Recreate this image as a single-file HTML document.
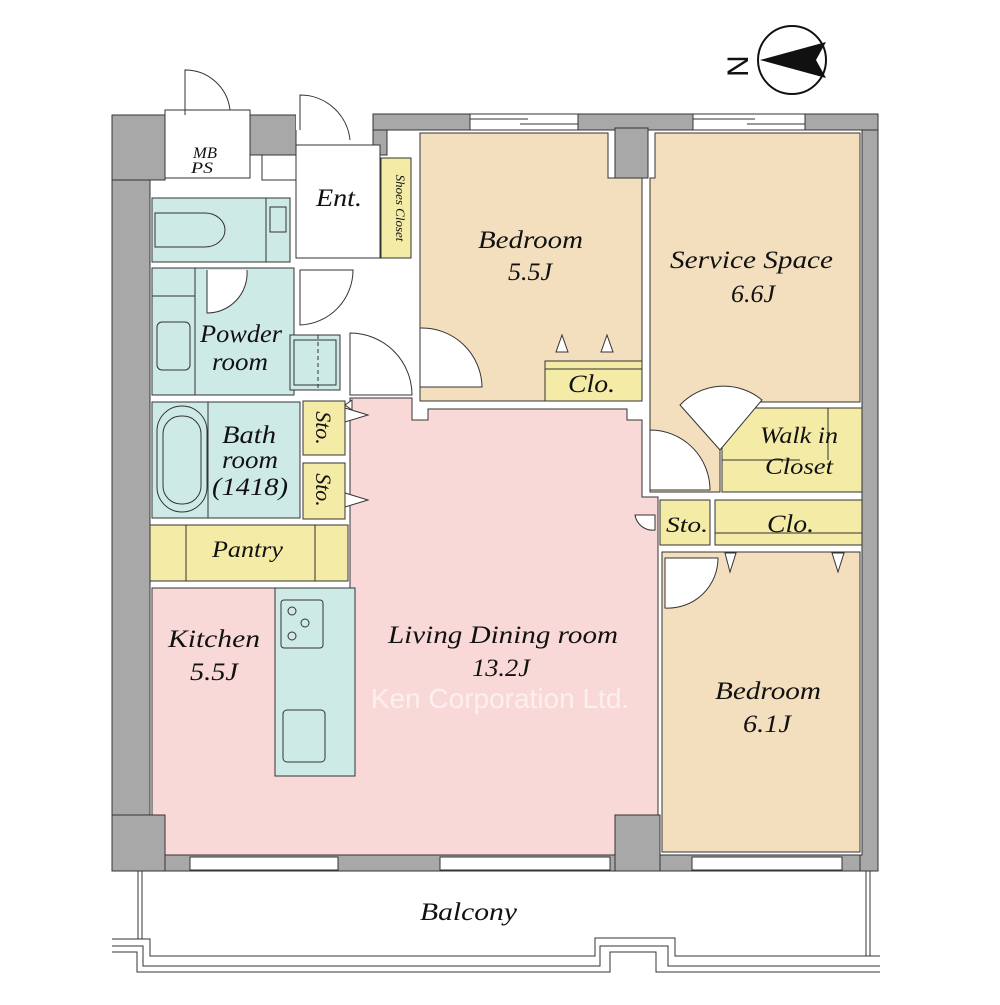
<!DOCTYPE html>
<html><head><meta charset="utf-8"><style>
html,body{margin:0;padding:0;background:#fff;}
svg text{font-family:"Liberation Serif",serif;font-style:italic;fill:#111;}
</style></head><body>
<svg width="1000" height="1000" viewBox="0 0 1000 1000" xmlns="http://www.w3.org/2000/svg">
<g stroke="#333" stroke-width="1">
<rect x="112" y="115" width="766" height="756" fill="#a8a8a8"/>
<rect x="150" y="130" width="712" height="725" fill="#fff"/>
<rect x="112" y="115" width="53" height="65" fill="#a8a8a8"/>
<rect x="165" y="110" width="85" height="68" fill="#fff"/>
<rect x="250" y="115" width="46" height="40" fill="#a8a8a8"/>
<rect x="262" y="155" width="34" height="25" fill="#fff"/>
<rect x="296" y="110" width="78" height="35" fill="#fff" stroke="none"/>
<line x1="296" y1="130" x2="296" y2="145"/><line x1="373" y1="115" x2="373" y2="145"/>
<rect x="373" y="114" width="505" height="16" fill="#a8a8a8"/>
<rect x="373" y="130" width="14" height="25" fill="#a8a8a8"/>
<rect x="470" y="114" width="108" height="16" fill="#fff"/>
<line x1="470" y1="119" x2="528" y2="119"/><line x1="520" y1="124" x2="578" y2="124"/>
<rect x="693" y="114" width="112" height="16" fill="#fff"/>
<line x1="693" y1="119" x2="755" y2="119"/><line x1="747" y1="124" x2="805" y2="124"/>
<rect x="615" y="128" width="33" height="50" fill="#a8a8a8"/>
<rect x="296" y="145" width="84" height="113" fill="#fff"/>
<rect x="381" y="158" width="30" height="100" fill="#f3eba6"/>
<polygon points="420,133 608,133 608,178 642,178 642,401 420,401" fill="#f3dfbd"/>
<rect x="545" y="361" width="97" height="40" fill="#f3eba6"/>
<line x1="545" y1="369" x2="642" y2="369"/>
<polygon points="556,352 562,335 568,352" fill="#fff"/>
<polygon points="601,352 607,335 613,352" fill="#fff"/>
<polygon points="650,178 655,178 655,133 860,133 860,402 720,402 720,492 650,492" fill="#f3dfbd"/>
<rect x="722" y="408" width="140" height="84" fill="#f3eba6"/>
<line x1="722" y1="460" x2="800" y2="460"/><line x1="828" y1="408" x2="828" y2="460"/>
<rect x="660" y="500" width="50" height="45" fill="#f3eba6"/>
<rect x="715" y="500" width="147" height="45" fill="#f3eba6"/>
<line x1="715" y1="533" x2="862" y2="533"/>
<rect x="662" y="552" width="198" height="300" fill="#f3dfbd"/>
<polygon points="725,553 730,572 736,553" fill="#fff"/>
<polygon points="832,553 838,572 844,553" fill="#fff"/>
<polygon points="350,398 412,398 412,420 428,420 428,409 627,409 627,420 642,420 642,497 658,497 658,852 615,852 615,815 165,815 165,852 152,852 152,588 350,588 350,520" fill="#f9d9d7"/>
<rect x="164" y="814" width="452" height="41" fill="#f9d9d7" stroke="none"/>
<polygon points="352,400 345,405 352,410" fill="#fff"/>
<rect x="275" y="588" width="80" height="188" fill="#cdeae7"/>
<rect x="281" y="600" width="42" height="48" rx="3" fill="none"/>
<circle cx="292" cy="611" r="4" fill="none"/><circle cx="305" cy="623" r="4" fill="none"/><circle cx="292" cy="636" r="4" fill="none"/>
<rect x="283" y="710" width="42" height="52" rx="4" fill="none"/>
<rect x="150" y="525" width="198" height="56" fill="#f3eba6"/>
<line x1="186" y1="525" x2="186" y2="581"/><line x1="315" y1="525" x2="315" y2="581"/>
<rect x="152" y="198" width="138" height="64" fill="#cdeae7"/>
<line x1="266" y1="198" x2="266" y2="262"/>
<path d="M155 213 H205 A20 17 0 0 1 205 247 H155 Z" fill="none"/>
<rect x="270" y="207" width="16" height="25" fill="none"/>
<rect x="152" y="268" width="142" height="127" fill="#cdeae7"/>
<line x1="195" y1="268" x2="195" y2="395"/><line x1="152" y1="296" x2="195" y2="296"/>
<path d="M207 270 V313 A40 40 0 0 0 247 270" fill="#fff"/>
<rect x="157" y="322" width="33" height="48" rx="5" fill="none"/>
<rect x="290" y="335" width="50" height="55" fill="#cdeae7"/>
<rect x="294" y="340" width="42" height="45" fill="none"/>
<line x1="318" y1="335" x2="318" y2="390" stroke-dasharray="4,3"/>
<rect x="152" y="402" width="148" height="116" fill="#cdeae7"/>
<line x1="208" y1="402" x2="208" y2="518"/>
<rect x="157" y="406" width="50" height="106" rx="25" fill="none"/>
<rect x="163" y="416" width="38" height="88" rx="18" fill="none"/>
<rect x="303" y="401" width="42" height="54" fill="#f3eba6"/>
<rect x="303" y="463" width="42" height="56" fill="#f3eba6"/>
<polygon points="345,408 368,415 345,422" fill="#fff"/>
<polygon points="345,493 368,500 345,507" fill="#fff"/>
<path d="M300 270 V325 A55 55 0 0 0 353 270 Z" fill="#fff"/>
<path d="M350 333 V395 H412 A62 62 0 0 0 350 333 Z" fill="#fff"/>
<path d="M420 328 V387 H482 A60 60 0 0 0 420 328 Z" fill="#fff"/>
<path d="M650 430 V490 H710 A60 60 0 0 0 650 430 Z" fill="#fff"/>
<path d="M665 558 V608 A50 50 0 0 0 718 558 Z" fill="#fff"/>
<path d="M720 450 L680 405 A60 60 0 0 1 762 400 Z" fill="#fff"/>
<path d="M635 515 A18 18 0 0 0 655 530 V515 Z" fill="#fff"/>
<path d="M300 130 V95 A50 50 0 0 1 350 140" fill="none"/>
<path d="M185 115 V70 A45 45 0 0 1 230 110" fill="none"/>
<rect x="112" y="815" width="53" height="56" fill="#a8a8a8"/>
<rect x="615" y="815" width="45" height="56" fill="#a8a8a8"/>
<rect x="165" y="855" width="450" height="16" fill="#a8a8a8"/>
<rect x="660" y="855" width="200" height="16" fill="#a8a8a8"/>
<rect x="190" y="857" width="148" height="13" fill="#fff"/>
<rect x="440" y="857" width="170" height="13" fill="#fff"/>
<rect x="692" y="857" width="150" height="13" fill="#fff"/>
<rect x="138" y="871" width="4" height="68" fill="#fff"/>
<rect x="866" y="871" width="4" height="85" fill="#fff"/>
<polyline points="112,939 150,939 150,956 595,956 595,938 675,938 675,956 880,956" fill="none"/>
<polyline points="112,946 143,946 143,966 600,966 600,946 668,946 668,966 880,966" fill="none"/>
<polyline points="112,952 137,952 137,972 610,972 610,952 656,952 656,972 880,972" fill="none"/>
</g>
<circle cx="792" cy="60" r="34" fill="#fff" stroke="#111" stroke-width="2"/>
<polygon points="760,60 826,42 816,60 826,78" fill="#111"/>
<text x="722" y="73" font-size="30" style="font-style:normal;font-family:'Liberation Sans',sans-serif" transform="rotate(-90 737 62)">N</text>
<g font-size="25">
<text x="193" y="158" font-size="16" textLength="24" lengthAdjust="spacingAndGlyphs">MB</text>
<text x="191" y="173" font-size="16" textLength="22" lengthAdjust="spacingAndGlyphs">PS</text>
<text x="316" y="206" textLength="46" lengthAdjust="spacingAndGlyphs">Ent.</text>
<text x="396" y="208" font-size="13" text-anchor="middle" transform="rotate(90 396 208)">Shoes Closet</text>
<text x="478" y="248" textLength="105" lengthAdjust="spacingAndGlyphs">Bedroom</text>
<text x="508" y="280" textLength="44" lengthAdjust="spacingAndGlyphs">5.5J</text>
<text x="670" y="268" textLength="163" lengthAdjust="spacingAndGlyphs">Service Space</text>
<text x="731" y="302" textLength="44" lengthAdjust="spacingAndGlyphs">6.6J</text>
<text x="568" y="392" textLength="47" lengthAdjust="spacingAndGlyphs">Clo.</text>
<text x="760" y="443" font-size="23" textLength="78" lengthAdjust="spacingAndGlyphs">Walk in</text>
<text x="765" y="474" font-size="23" textLength="68" lengthAdjust="spacingAndGlyphs">Closet</text>
<text x="666" y="532" font-size="22" textLength="42" lengthAdjust="spacingAndGlyphs">Sto.</text>
<text x="767" y="532" textLength="47" lengthAdjust="spacingAndGlyphs">Clo.</text>
<text x="200" y="342" textLength="82" lengthAdjust="spacingAndGlyphs">Powder</text>
<text x="212" y="370" textLength="56" lengthAdjust="spacingAndGlyphs">room</text>
<text x="222" y="443" textLength="54" lengthAdjust="spacingAndGlyphs">Bath</text>
<text x="222" y="468" textLength="56" lengthAdjust="spacingAndGlyphs">room</text>
<text x="212" y="495" textLength="76" lengthAdjust="spacingAndGlyphs">(1418)</text>
<text x="310" y="428" font-size="22" text-anchor="middle" transform="rotate(90 324 428)" dx="14" dy="8">Sto.</text>
<text x="310" y="490" font-size="22" text-anchor="middle" transform="rotate(90 324 490)" dx="14" dy="8">Sto.</text>
<text x="212" y="557" font-size="23" textLength="71" lengthAdjust="spacingAndGlyphs">Pantry</text>
<text x="168" y="647" textLength="92" lengthAdjust="spacingAndGlyphs">Kitchen</text>
<text x="190" y="680" textLength="48" lengthAdjust="spacingAndGlyphs">5.5J</text>
<text x="388" y="643" textLength="230" lengthAdjust="spacingAndGlyphs">Living Dining room</text>
<text x="472" y="676" textLength="58" lengthAdjust="spacingAndGlyphs">13.2J</text>
<text x="500" y="708" font-size="28" text-anchor="middle" style="font-style:normal;font-family:'Liberation Sans',sans-serif;fill:#fff;opacity:0.6">Ken Corporation Ltd.</text>
<text x="715" y="699" textLength="106" lengthAdjust="spacingAndGlyphs">Bedroom</text>
<text x="743" y="732" textLength="48" lengthAdjust="spacingAndGlyphs">6.1J</text>
<text x="420" y="920" textLength="97" lengthAdjust="spacingAndGlyphs">Balcony</text>
</g>
</svg>
</body></html>
